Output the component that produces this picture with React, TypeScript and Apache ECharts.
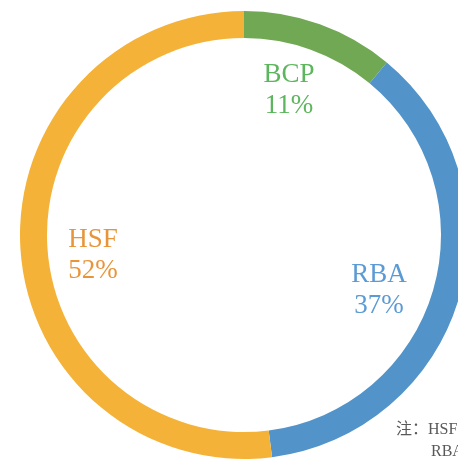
import React, { useEffect, useRef } from "react";
import * as echarts from "echarts";

const categories = ["BCP", "RBA", "HSF"];
const values = [11, 37, 52];
const sliceColors = ["#70A853", "#5294C9", "#F4B338"];
const labelColors = ["#5DB65D", "#5B9BD5", "#E8953A"];
const labelPos: [number, number][] = [
  [289, 88],
  [379, 288],
  [93, 253],
];
const noteLines = ["注：HSF：高速铁路", "RBA：区域"];

export default function App() {
  const ref = useRef<HTMLDivElement>(null);
  useEffect(() => {
    if (!ref.current) return;
    const chart = echarts.init(ref.current, undefined, { renderer: "svg" });
    chart.setOption({
      animation: false,
      series: [
        {
          type: "pie",
          center: [244, 235],
          radius: [197, 224],
          startAngle: 90,
          clockwise: true,
          percentPrecision: 0,
          avoidLabelOverlap: false,
          labelLine: { show: false },
          data: categories.map((c, i) => ({
            name: c,
            value: values[i],
            itemStyle: { color: sliceColors[i] },
            label: { color: labelColors[i] },
          })),
          label: {
            show: true,
            position: "outside",
            formatter: "{b}\n{d}%",
            fontFamily: "'Liberation Serif', 'DejaVu Serif', serif",
            fontSize: 27,
            lineHeight: 31,
            align: "center",
          },
          labelLayout: (p: any) => ({
            x: labelPos[p.dataIndex][0],
            y: labelPos[p.dataIndex][1],
            align: "center",
            verticalAlign: "middle",
          }),
          emphasis: { disabled: true },
        },
      ],
      graphic: [
        {
          type: "text",
          left: 396,
          top: 420,
          style: {
            text: noteLines[0],
            fill: "#595959",
            font: "16px 'Liberation Serif', 'Noto Sans CJK SC', serif",
          },
        },
        {
          type: "text",
          left: 431,
          top: 442,
          style: {
            text: noteLines[1],
            fill: "#595959",
            font: "16px 'Liberation Serif', 'Noto Sans CJK SC', serif",
          },
        },
      ],
    });
    return () => chart.dispose();
  }, []);
  return (
    <div
      ref={ref}
      style={{ position: "fixed", left: 0, top: 0, width: 458, height: 459 }}
    />
  );
}
